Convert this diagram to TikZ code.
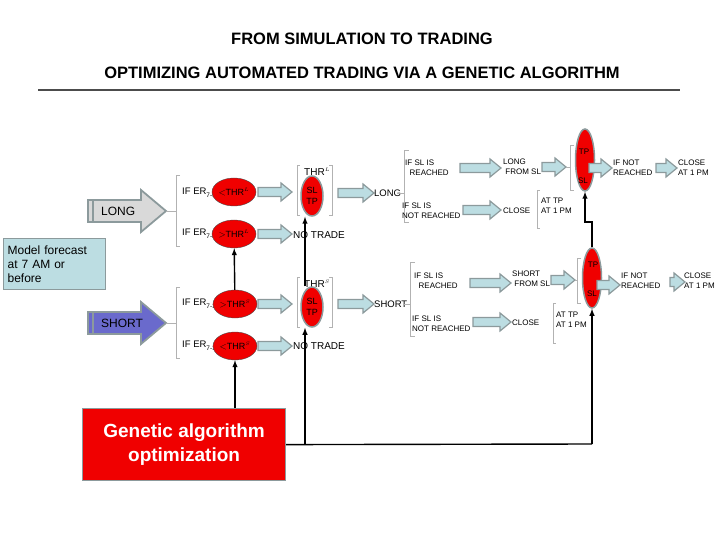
\documentclass[tikz,border=0pt]{standalone}
\usepackage{fontspec}
\setmainfont{Liberation Sans}
\usetikzlibrary{shapes.geometric}
\definecolor{lb}{HTML}{BCDDE2}
\definecolor{bord}{HTML}{8C9A9C}
\definecolor{rd}{HTML}{F00000}
\definecolor{sb}{HTML}{6A6ACC}
\newcommand{\erlab}{IF ER\raisebox{-2.5pt}{\fontsize{6.5}{6.5}\selectfont 7-3}}
% block arrow: x1, x2, y
\newcommand{\barr}[3]{\draw[draw=bord,fill=lb,line width=1.2pt] (#1,#3-4.5) -- (#2-11,#3-4.5) -- (#2-11,#3-9) -- (#2,#3) -- (#2-11,#3+9) -- (#2-11,#3+4.5) -- (#1,#3+4.5) -- cycle;}
\newcommand{\bigarr}[4]{\draw[draw=bord,fill=#4,line width=1.8pt] (#1,#3-11) -- (#2-25,#3-11) -- (#2-25,#3-21) -- (#2,#3) -- (#2-25,#3+21) -- (#2-25,#3+11) -- (#1,#3+11) -- cycle;}
\begin{document}
\begin{tikzpicture}[x=1pt,y=-1pt,
  t/.style={font=\fontsize{8}{10}\selectfont,align=left,inner sep=0pt,anchor=west},
  ell/.style={ellipse,draw=black!70,fill=rd,inner sep=0pt,font=\fontsize{9}{10}\selectfont},
  vel/.style={ellipse,draw=bord,line width=1.5pt,fill=rd,inner sep=0pt,font=\fontsize{9}{11}\selectfont,align=center},
  brk/.style={draw=black!30,line width=0.4pt},
  con/.style={line width=1.4pt,-latex}]
\useasboundingbox (0,0) rectangle (720,540);
% titles
\node[font=\bfseries\fontsize{16.5}{19}\selectfont] (t1) at (362,39) {FROM SIMULATION TO TRADING};
\node[font=\bfseries\fontsize{16.5}{19}\selectfont] (t2) at (362,73) {OPTIMIZING AUTOMATED TRADING VIA A GENETIC ALGORITHM};
\draw[line width=1.3pt,black!70] (38,90) -- (680,90);
% model box
\node[draw=bord,line width=1.2pt,fill=lb,minimum width=102pt,minimum height=51pt,anchor=north west,inner sep=3pt,align=left,font=\fontsize{12}{14}\selectfont,text width=94pt] (mf) at (3,238) {Model forecast\\at 7 AM or\\before};
% big arrows
\bigarr{88}{166}{211}{black!15}
\bigarr{88}{166}{323}{sb}
\draw[line width=1.2pt,bord] (93,200)--(93,222) (93,312)--(93,334);
\node[font=\fontsize{12}{14}\selectfont,anchor=west,inner sep=0pt] (long) at (101,211) {LONG};
\node[font=\fontsize{12}{14}\selectfont,anchor=west,inner sep=0pt] (short) at (101,323) {SHORT};
% left brackets
\draw[brk] (180,175)--(176,175)--(176,246)--(180,246) (166,211)--(176,211);
\draw[brk] (180,287)--(176,287)--(176,358)--(180,358) (166,323)--(176,323);
% IF ER nodes
\node[t,font=\fontsize{9.5}{10}\selectfont] (i1) at (182,193) {\erlab};
\node[t,font=\fontsize{9.5}{10}\selectfont] (i2) at (182,234) {\erlab};
\node[t,font=\fontsize{9.5}{10}\selectfont] (i3) at (182,304) {\erlab};
\node[t,font=\fontsize{9.5}{10}\selectfont] (i4) at (182,346) {\erlab};
\node[ell,minimum width=44pt,minimum height=28pt] (eL1) at (234,192) {$<$THR$^{\scriptscriptstyle L}$};
\node[ell,minimum width=44pt,minimum height=28pt] (eL2) at (234,234) {$>$THR$^{\scriptscriptstyle L}$};
\node[ell,minimum width=44pt,minimum height=28pt] (eS1) at (235,304) {$>$THR$^{\scriptscriptstyle S}$};
\node[ell,minimum width=44pt,minimum height=28pt] (eS2) at (235,346) {$<$THR$^{\scriptscriptstyle S}$};
% small arrows
\barr{258}{292}{192}
\barr{258}{292}{234}
\barr{258}{292}{304}
\barr{258}{292}{346}
\node[t,font=\fontsize{10}{12}\selectfont] (nt1) at (293,235) {NO TRADE};
\node[t,font=\fontsize{10}{12}\selectfont] (nt2) at (293,346) {NO TRADE};
% THR SL TP
\node[t,font=\fontsize{10}{12}\selectfont] (thl) at (304,172) {THR$^{\scriptscriptstyle L}$};
\node[t,font=\fontsize{10}{12}\selectfont] (ths) at (304,284) {THR$^{\scriptscriptstyle S}$};
\draw[brk] (300,165)--(297,165)--(297,215)--(300,215) (329,165)--(332,165)--(332,215)--(329,215);
\draw[brk] (300,277)--(297,277)--(297,327)--(300,327) (329,277)--(332,277)--(332,327)--(329,327);
\node[vel,minimum width=22pt,minimum height=40pt] (sltpL) at (312,196) {SL\\TP};
\node[vel,minimum width=22pt,minimum height=40pt] (sltpS) at (312,307) {SL\\TP};
\barr{338}{374}{193}
\barr{338}{374}{304}
\node[t,font=\fontsize{9.5}{11}\selectfont] (lg) at (374,193) {LONG};
\node[t,font=\fontsize{9.5}{11}\selectfont] (sh) at (374,304) {SHORT};
% branches
\draw[brk] (398,193)--(404,193) (409,150)--(404,150)--(404,222)--(409,222);
\draw[brk] (415,262)--(410,262)--(410,336)--(415,336) (404,304)--(410,304);
\node[t] (r1) at (405,168) {IF SL IS\\\ \ REACHED};
\node[t] (r2) at (402,211) {IF SL IS\\NOT REACHED};
\node[t] (r3) at (414,281) {IF SL IS\\\ \ REACHED};
\node[t] (r4) at (412,324) {IF SL IS\\NOT REACHED};
\barr{460}{501}{168}
\barr{463}{501}{210}
\barr{470}{511}{283}
\barr{473}{511}{322}
\node[t] (lfs) at (503,167) {LONG\\\ FROM SL};
\node[t] (cl1) at (503,211) {CLOSE};
\node[t] (sfs) at (512,279) {SHORT\\\ FROM SL};
\node[t] (cl2) at (512,323) {CLOSE};
\draw[brk] (540,190)--(537,190)--(537,228)--(540,228);
\draw[brk] (556,303)--(553,303)--(553,343)--(556,343);
\node[t] (at1) at (541,206) {AT TP\\AT 1 PM};
\node[t] (at2) at (556,320) {AT TP\\AT 1 PM};
\barr{542}{566}{167}
\barr{551}{575}{280}
\draw[brk] (574,145)--(570,145)--(570,190)--(574,190) (566,167)--(570,167);
\draw[brk] (581,258)--(577,258)--(577,303)--(581,303) (575,280)--(577,280);
\node[vel,minimum width=19pt,minimum height=62pt] (tpslL) at (585,160) {};
\node[vel,minimum width=19pt,minimum height=60pt] (tpslS) at (592,278) {};
\barr{589}{612}{168}
\barr{597}{620}{285}
\node[font=\fontsize{8}{8}\selectfont,inner sep=0pt] (tpL) at (584,152) {TP};
\node[font=\fontsize{8}{8}\selectfont,inner sep=0pt] (slL) at (583,181) {SL};
\node[font=\fontsize{8}{8}\selectfont,inner sep=0pt] (tpS) at (593,265) {TP};
\node[font=\fontsize{8}{8}\selectfont,inner sep=0pt] (slS) at (592,294) {SL};
\node[t] (nr1) at (613,168) {IF NOT\\REACHED};
\node[t] (nr2) at (621,281) {IF NOT\\REACHED};
\barr{656}{677}{168}
\barr{670}{685}{282}
\node[t] (c1) at (678,168) {CLOSE\\AT 1 PM};
\node[t] (c2) at (684,281) {CLOSE\\AT 1 PM};
% GA box
\node[draw=bord,line width=1.2pt,fill=rd,minimum width=203pt,minimum height=72pt,anchor=north west,text=white,font=\bfseries\fontsize{19}{24}\selectfont,align=center] (ga) at (82,408) {Genetic algorithm\\optimization};
% connectors
\coordinate (j1) at (305,444);
\coordinate (j2) at (592,444);
\coordinate (c3) at (585,222);
\draw[line width=1.4pt] (ga.east) -- (j2);
\draw[con] (ga.north -| eS2) -- (eS2);
\draw[con] (eS1) -- (eL2);
\draw[con] (j1) -- (sltpS.south -| j1);
\draw[con] (sltpS.north -| j1) -- (sltpL.south -| j1);
\draw[con] (j2) -- (tpslS);
\draw[con] (tpslS.north) |- (c3) -- (tpslL.south);
\end{tikzpicture}
\end{document}
